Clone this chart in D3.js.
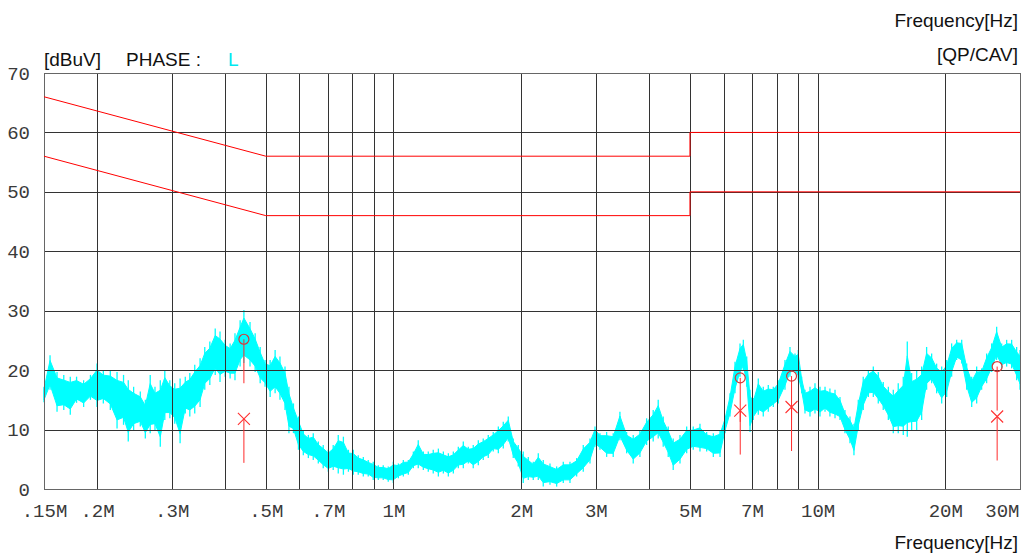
<!DOCTYPE html>
<html>
<head>
<meta charset="utf-8">
<script src="https://cdn.jsdelivr.net/npm/d3@7/dist/d3.min.js"></script>
<style>
  html, body { margin: 0; padding: 0; background: #fff; }
  svg { display: block; }
</style>
</head>
<body>
<svg id="chart" width="1025" height="556"></svg>
<script>
// ---- Axis ticks ----
const xTickValues = [0.15, 0.2, 0.3, 0.5, 0.7, 1, 2, 3, 5, 7, 10, 20, 30];
const xTickLabels = [".15M", ".2M", ".3M", ".5M", ".7M", "1M", "2M", "3M", "5M", "7M", "10M", "20M", "30M"];
const xGridValues = [0.2, 0.3, 0.4, 0.5, 0.6, 0.7, 0.8, 0.9, 1, 2, 3, 4, 5, 6, 7, 8, 9, 10, 20, 30];
const yTickValues = [0, 10, 20, 30, 40, 50, 60, 70];

// ---- Limit lines (MHz, dBuV) ----
const limitFreq = [0.15, 0.5, 5, 5, 30];
const qpLimit = [66, 56, 56, 60, 60];
const avLimit = [56, 46, 46, 50, 50];

// ---- Measured trace, phase L: frequency (MHz) with upper / lower envelope (dBuV) ----
const traceFreq = [
  0.150,0.155,0.161,0.167,0.173,0.179,0.186,0.193,0.200,0.207,0.215,0.223,0.231,0.237,0.244,0.253,0.260,0.267,0.274,0.282,
  0.289,0.297,0.305,0.314,0.323,0.331,0.340,0.350,0.359,0.369,0.380,0.390,0.401,0.412,0.423,0.435,0.444,0.459,0.472,0.485,
  0.498,0.512,0.526,0.540,0.555,0.567,
  0.581,0.597,0.613,0.630,0.647,0.665,0.683,0.702,0.721,0.741,0.762,0.783,0.804,0.826,0.849,0.872,0.896,0.921,0.946,0.972,
  0.999,1.027,1.055,1.084,1.114,1.144,1.176,1.208,1.241,1.276,1.311,1.347,1.384,1.422,1.461,1.501,1.542,1.585,1.628,1.673,
  1.719,1.767,1.815,1.865,1.916,1.969,2.023,2.079,2.136,2.195,
  2.255,2.339,2.425,2.514,2.607,2.703,2.802,2.906,2.986,3.068,3.181,3.297,3.419,3.546,3.675,3.811,3.952,4.096,4.209,4.325,
  4.444,4.566,4.737,4.912,5.091,5.280,5.475,5.677,5.887,6.049,6.215,6.386,6.562,6.681,6.805,6.928,7.053,7.246,7.445,7.650,
  7.861,8.077,
  8.376,8.607,8.844,9.003,9.171,9.337,9.594,9.858,10.13,10.41,10.69,10.99,11.29,11.60,11.92,12.18,12.47,12.81,13.17,13.53,
  13.90,14.28,14.68,15.08,15.49,15.92,16.27,16.66,17.12,17.59,18.07,18.57,19.08,19.61,20.15,20.70,21.27,21.86,22.46,23.08,
  23.71,24.36,25.03,25.72,26.43,27.16,27.90,28.67,29.46,30.0
];
const traceHi = [
  17.2,22.5,19.7,19.2,18.9,18.9,18.3,19.2,21.1,20.0,20.0,19.7,19.2,18.3,17.2,16.4,15.0,19.2,17.2,18.3,
  20.0,18.3,17.8,18.6,18.9,19.5,20.9,22.0,23.9,24.8,27.0,26.5,25.1,24.5,26.2,28.4,30.1,28.1,26.2,23.9,
  21.7,21.7,23.4,22.3,20.6,17.2,
  14.4,12.2,9.9,9.1,9.4,8.0,7.4,6.6,7.4,9.1,8.8,6.6,6.6,5.7,5.4,4.9,4.6,4.0,4.0,3.8,
  4.6,4.3,4.9,4.9,6.3,8.2,6.3,6.3,6.6,6.8,6.3,6.0,6.3,7.1,8.0,7.1,7.4,8.2,8.5,9.1,
  9.6,10.5,11.3,12.2,8.5,7.4,6.3,5.4,4.6,6.0,
  4.9,4.3,3.8,4.6,4.6,5.2,7.4,8.5,10.5,9.4,9.6,9.4,13.0,9.6,9.1,9.9,11.9,13.3,15.0,12.2,
  10.5,8.5,9.1,10.5,10.5,11.0,9.6,9.4,9.9,12.2,16.1,21.4,24.5,25.1,22.3,16.7,15.3,18.6,17.2,17.5,
  17.2,18.3,
  21.7,23.9,22.8,23.4,18.9,16.7,17.2,17.8,17.2,17.2,16.9,16.7,15.5,13.3,12.2,11.0,15.0,18.9,20.0,20.6,
  19.7,18.0,17.2,16.7,17.8,18.9,24.8,19.5,20.0,20.6,23.9,22.8,21.1,20.6,21.7,24.5,25.1,25.1,21.1,18.9,
  20.6,20.3,22.8,24.5,27.3,24.5,25.1,25.1,23.9,23.4
];
const traceLo = [
  14.6,16.7,13.0,13.3,12.5,14.5,13.8,15.0,13.8,14.4,13.3,10.2,10.8,8.0,9.9,10.5,8.5,9.4,9.9,7.1,
  11.6,11.9,11.0,7.7,12.7,12.2,12.7,13.8,16.7,17.5,19.2,18.0,18.9,18.6,18.3,20.6,21.2,20.6,19.7,17.8,
  17.2,15.5,16.1,15.0,13.3,9.4,
  9.4,6.6,5.7,5.2,4.9,4.3,3.5,2.9,3.2,2.6,2.4,2.9,2.4,2.4,2.1,2.1,1.5,1.5,1.5,1.2,
  1.0,1.8,2.1,2.4,3.5,3.5,3.2,2.9,2.6,2.1,2.6,2.1,2.6,3.5,3.5,4.3,3.5,4.0,4.9,5.2,
  6.3,6.0,6.8,8.0,5.2,3.8,1.0,1.5,1.5,1.5,
  0.4,0.7,0.4,1.0,1.0,2.1,2.9,4.3,7.1,6.6,5.4,5.4,8.2,6.0,4.3,5.4,7.4,8.0,8.5,7.1,
  5.4,3.2,4.3,6.0,6.6,6.3,6.3,5.4,5.4,9.4,12.2,16.1,18.9,20.0,17.2,9.6,11.6,12.5,12.2,13.0,
  13.8,14.4,
  16.7,18.9,19.5,18.3,16.1,12.7,12.2,12.7,12.2,13.0,12.2,11.9,11.6,9.4,7.7,5.7,9.9,13.3,15.5,15.5,
  14.4,13.3,11.6,9.4,9.4,9.1,8.8,9.9,9.9,11.6,16.7,17.8,16.1,14.4,15.5,18.9,21.7,21.1,16.7,13.8,
  14.4,16.7,17.8,19.7,21.7,20.3,20.6,20.3,18.3,16.7
];

// ---- Final measurement markers ----
const markerFreq = [0.444, 6.57, 8.68, 26.5];
const qpValues = [25.2, 18.7, 19.0, 20.6];
const avValues = [11.8, 13.2, 13.8, 12.2];

// ---- Layout ----
const plot = { left: 44, right: 1020, top: 73, bottom: 489 };
const svg = d3.select("#chart");
svg.append("rect").attr("width", 1025).attr("height", 556).attr("fill", "#fff");

const x = d3.scaleLog().domain([0.15, 30]).range([plot.left, plot.right]);
const y = d3.scaleLinear().domain([0, 70]).range([plot.bottom, plot.top]);

const monoFont = "'Liberation Mono', 'DejaVu Sans Mono', monospace";
const sansFont = "'Liberation Sans', Arial, sans-serif";

// ---- Measured trace: dense core band plus thin spikes out to the envelope ----
const trace = traceFreq.map((f, i) => ({ f, hi: traceHi[i], lo: traceLo[i] }));
const coreInset = 0.15; // fraction of the envelope height trimmed off each side of the core band
const gTrace = svg.append("g");
gTrace.append("path")
  .datum(trace)
  .attr("fill", "#00ffff")
  .attr("stroke", "#00ffff")
  .attr("stroke-width", 1)
  .attr("d", d3.area()
    .x(d => x(d.f))
    .y0(d => y(d.lo + (d.hi - d.lo) * coreInset))
    .y1(d => y(d.hi - (d.hi - d.lo) * coreInset)));
gTrace.append("g")
  .selectAll("line")
  .data(trace)
  .join("line")
  .attr("x1", d => x(d.f)).attr("x2", d => x(d.f))
  .attr("y1", d => y(d.hi)).attr("y2", d => y(d.lo))
  .attr("stroke", "#00ffff").attr("stroke-width", 1.3);

// ---- Grid ----
const gridColor = "#333";
svg.append("g")
  .attr("transform", `translate(0,${plot.bottom})`)
  .call(d3.axisBottom(x).tickValues(xGridValues).tickSize(-(plot.bottom - plot.top)).tickFormat(""))
  .call(g => g.select(".domain").remove())
  .call(g => g.selectAll("line").attr("stroke", gridColor).attr("shape-rendering", "crispEdges"));
svg.append("g")
  .attr("transform", `translate(${plot.left},0)`)
  .call(d3.axisLeft(y).tickValues(yTickValues).tickSize(-(plot.right - plot.left)).tickFormat(""))
  .call(g => g.select(".domain").remove())
  .call(g => g.selectAll("line").attr("stroke", gridColor).attr("shape-rendering", "crispEdges"));
svg.append("rect")
  .attr("x", plot.left).attr("y", plot.top)
  .attr("width", plot.right - plot.left).attr("height", plot.bottom - plot.top)
  .attr("fill", "none").attr("stroke", "#666").attr("shape-rendering", "crispEdges");

// ---- Limit lines ----
const limitLine = d3.line().x(d => x(d[0])).y(d => y(d[1]));
[qpLimit, avLimit].forEach(lim => {
  svg.append("path")
    .datum(limitFreq.map((f, i) => [f, lim[i]]))
    .attr("fill", "none")
    .attr("stroke", "#ff0000")
    .attr("stroke-width", 1)
    .attr("d", limitLine);
});

// ---- Markers ----
const stemLen = 44;
const gMark = svg.append("g");
markerFreq.forEach((f, i) => {
  const cx = x(f);
  [qpValues[i], avValues[i]].forEach(v => {
    gMark.append("line")
      .attr("x1", cx).attr("x2", cx)
      .attr("y1", y(v)).attr("y2", y(v) + stemLen)
      .attr("stroke", "#ff2a2a").attr("stroke-width", 1);
  });
  gMark.append("circle")
    .attr("cx", cx).attr("cy", y(qpValues[i])).attr("r", 5)
    .attr("fill", "none").attr("stroke", "#d43a3a").attr("stroke-width", 1.2);
  gMark.append("path")
    .attr("transform", `translate(${cx},${y(avValues[i])})`)
    .attr("d", "M-6,-6L6,6M-6,6L6,-6")
    .attr("stroke", "#ff3030").attr("stroke-width", 1.1).attr("fill", "none");
});

// ---- Axis labels ----
const xAxis = svg.append("g")
  .attr("transform", `translate(0,${plot.bottom})`)
  .call(d3.axisBottom(x).tickValues(xTickValues).tickFormat((d, i) => xTickLabels[i]).tickSize(0).tickPadding(15));
xAxis.select(".domain").remove();
xAxis.selectAll("text")
  .attr("font-family", monoFont).attr("font-size", 19).attr("fill", "#3a3a3a");
xAxis.selectAll(".tick").filter(d => d === 30).select("text")
  .attr("text-anchor", "end").attr("x", -1);

const yAxis = svg.append("g")
  .attr("transform", `translate(${plot.left},0)`)
  .call(d3.axisLeft(y).tickValues(yTickValues).tickFormat(d3.format("d")).tickSize(0).tickPadding(14));
yAxis.select(".domain").remove();
yAxis.selectAll("text")
  .attr("font-family", monoFont).attr("font-size", 19).attr("fill", "#3a3a3a");

// ---- Header / titles ----
const txt = (tx, ty, s, anchor, color) => svg.append("text")
  .attr("x", tx).attr("y", ty).attr("text-anchor", anchor)
  .attr("font-family", sansFont).attr("font-size", 19).attr("fill", color).text(s);
txt(44, 66, "[dBuV]", "start", "#111");
txt(126, 66, "PHASE :", "start", "#111");
txt(228, 66, "L", "start", "#00e8f0");
txt(1018, 27, "Frequency[Hz]", "end", "#111");
txt(1018, 61, "[QP/CAV]", "end", "#111");
txt(1018, 549, "Frequency[Hz]", "end", "#111");
</script>
</body>
</html>
